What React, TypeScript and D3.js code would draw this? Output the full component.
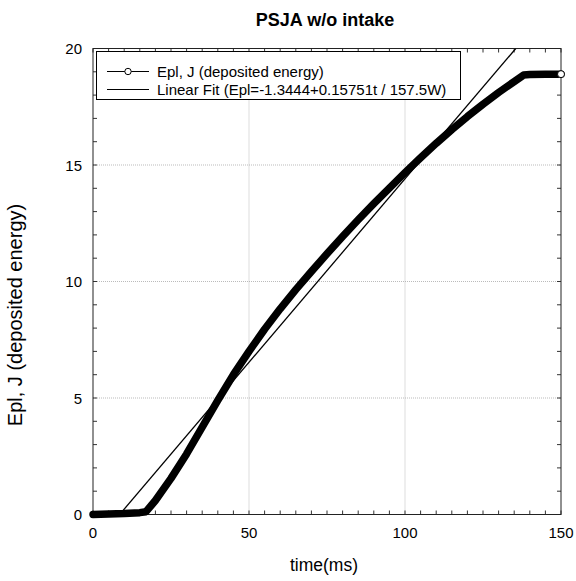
import React from "react";
import * as d3 from "d3";

const timeMs = [0, 5, 10, 15, 17, 20, 25, 30, 35, 40, 45, 50, 55, 60, 65, 70, 75, 80, 85, 90, 95, 100, 105, 110, 115, 120, 125, 130, 135, 138, 140, 145, 150];
const energyJ = [0, 0.02, 0.04, 0.08, 0.12, 0.6, 1.55, 2.6, 3.75, 4.9, 6.0, 7.0, 7.95, 8.83, 9.65, 10.43, 11.19, 11.93, 12.65, 13.34, 14.01, 14.67, 15.31, 15.93, 16.52, 17.08, 17.61, 18.11, 18.58, 18.86, 18.88, 18.9, 18.9];
const fitIntercept = -1.3444;
const fitSlope = 0.15751;
const xTicks = [0, 50, 100, 150];
const yTicks = [0, 5, 10, 15, 20];
const title = "PSJA w/o intake";
const xLabel = "time(ms)";
const yLabel = "Epl, J (deposited energy)";
const legendLabels = ["Epl, J (deposited energy)", "Linear Fit (Epl=-1.3444+0.15751t / 157.5W)"];

const W = 576, H = 581;
const L = 93, R = 561, T = 48.5, B = 514.5;
const FONT = "Arial, 'Liberation Sans', Helvetica, sans-serif";

export default function App() {
  const x = d3.scaleLinear().domain([0, 150]).range([L, R]);
  const y = d3.scaleLinear().domain([0, 20]).range([B, T]);
  const pts = timeMs.map((t, i) => [t, energyJ[i]] as [number, number]);
  const line = d3.line<[number, number]>().x(d => x(d[0])).y(d => y(d[1]));
  const fitT0 = -fitIntercept / fitSlope;
  const fitT1 = (20 - fitIntercept) / fitSlope;
  const minorX = d3.range(0, 151, 5);
  const minorY = d3.range(0, 21, 1);
  const last = pts[pts.length - 1];
  return (
    <svg width={W} height={H} style={{ position: "absolute", left: 0, top: 0 }} fontFamily={FONT}>
      <rect width={W} height={H} fill="white" />
      <defs>
        <clipPath id="plotclip">
          <rect x={L} y={T} width={R - L} height={B - T} />
        </clipPath>
      </defs>
      {/* grid */}
      {xTicks.slice(1, -1).map(t => (
        <line key={"gx" + t} x1={x(t)} x2={x(t)} y1={T} y2={B} stroke="#aaa" strokeWidth={0.8} strokeDasharray="1,1" />
      ))}
      {yTicks.slice(1, -1).map(t => (
        <line key={"gy" + t} x1={L} x2={R} y1={y(t)} y2={y(t)} stroke="#aaa" strokeWidth={0.8} strokeDasharray="1,1" />
      ))}
      {/* minor ticks */}
      {minorX.map(t => (
        <g key={"mx" + t}>
          <line x1={x(t)} x2={x(t)} y1={B} y2={B - 4} stroke="#333" strokeWidth={1} />
          <line x1={x(t)} x2={x(t)} y1={T} y2={T + 4} stroke="#333" strokeWidth={1} />
        </g>
      ))}
      {minorY.map(t => (
        <g key={"my" + t}>
          <line x1={L} x2={L + 4} y1={y(t)} y2={y(t)} stroke="#333" strokeWidth={1} />
          <line x1={R} x2={R - 4} y1={y(t)} y2={y(t)} stroke="#333" strokeWidth={1} />
        </g>
      ))}
      {/* frame */}
      <rect x={L} y={T} width={R - L} height={B - T} fill="none" stroke="#222" strokeWidth={1} />
      {/* fit line */}
      <g clipPath="url(#plotclip)">
        <line x1={x(fitT0)} y1={y(0)} x2={x(fitT1)} y2={y(20)} stroke="black" strokeWidth={1.3} />
      </g>
      {/* data line */}
      <path d={line(pts) || ""} fill="none" stroke="black" strokeWidth={7.5} strokeLinejoin="round" strokeLinecap="round" />
      <circle cx={x(last[0])} cy={y(last[1])} r={3.5} fill="white" stroke="black" strokeWidth={1} />
      {/* tick labels */}
      {xTicks.map(t => (
        <text key={"xl" + t} x={x(t)} y={538} textAnchor="middle" fontSize={15}>{t}</text>
      ))}
      {yTicks.map(t => (
        <text key={"yl" + t} x={82} y={y(t) + 5.5} textAnchor="end" fontSize={15}>{t}</text>
      ))}
      {/* legend */}
      <rect x={96.5} y={51.5} width={364} height={48} fill="white" stroke="black" strokeWidth={1} />
      <line x1={107} x2={149} y1={71.5} y2={71.5} stroke="black" strokeWidth={1} />
      <circle cx={128} cy={71.5} r={3.2} fill="white" stroke="black" strokeWidth={1} />
      <text x={157} y={77} fontSize={15}>{legendLabels[0]}</text>
      <line x1={107} x2={149} y1={89.5} y2={89.5} stroke="black" strokeWidth={1} />
      <text x={157} y={95} fontSize={15}>{legendLabels[1]}</text>
      {/* titles */}
      <text x={325} y={26} textAnchor="middle" fontSize={18} fontWeight="bold">{title}</text>
      <text x={324} y={571} textAnchor="middle" fontSize={17.5}>{xLabel}</text>
      <text transform={`translate(22,315) rotate(-90)`} textAnchor="middle" fontSize={20}>{yLabel}</text>
    </svg>
  );
}
